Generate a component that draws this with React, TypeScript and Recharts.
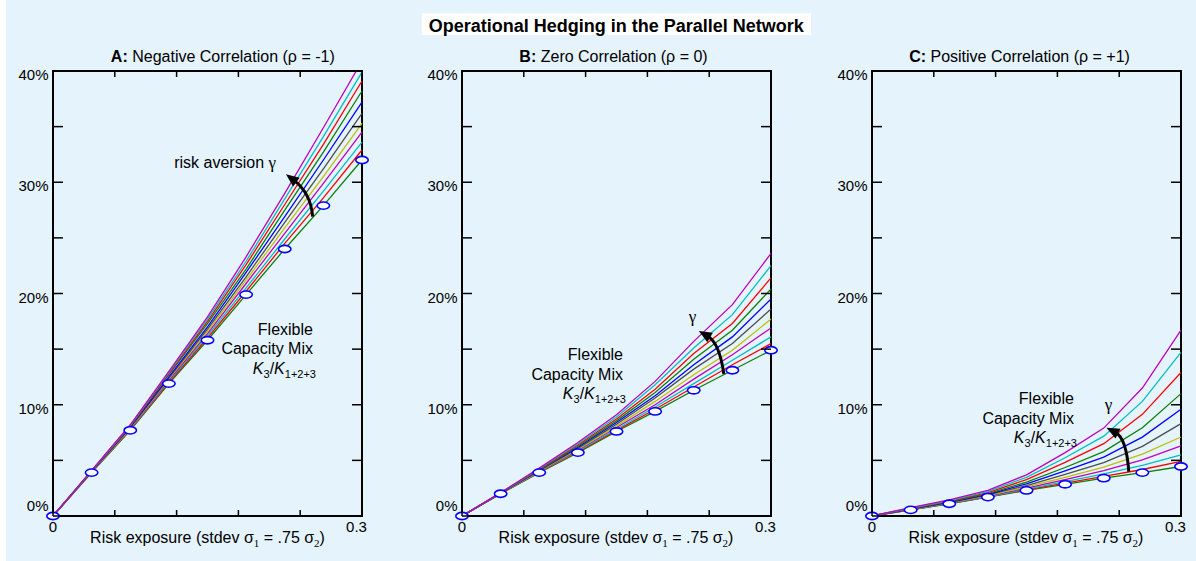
import { LineChart, Line, XAxis, YAxis, ReferenceArea, ReferenceDot } from "recharts";

// risk exposure grid (stdev of demand 1)
const exposure = [0, 0.0375, 0.075, 0.1125, 0.15, 0.1875, 0.225, 0.2625, 0.3];

// flexible capacity share K3/K1+2+3 in %, one row per risk aversion level (gamma = 0 first)
const negCorrMix = [
  [0, 3.9, 7.7, 11.9, 15.8, 19.9, 24.0, 27.9, 32.0],
  [0, 3.92, 7.75, 12.0, 16.0, 20.2, 24.5, 28.6, 32.9],
  [0, 3.94, 7.79, 12.1, 16.2, 20.5, 24.9, 29.2, 33.6],
  [0, 3.96, 7.84, 12.2, 16.4, 20.9, 25.4, 29.9, 34.5],
  [0, 3.97, 7.89, 12.3, 16.6, 21.2, 25.9, 30.5, 35.3],
  [0, 3.99, 7.94, 12.4, 16.8, 21.5, 26.4, 31.2, 36.2],
  [0, 4.02, 7.99, 12.5, 17.0, 21.9, 26.9, 32.0, 37.2],
  [0, 4.04, 8.05, 12.7, 17.3, 22.2, 27.5, 32.7, 38.2],
  [0, 4.06, 8.1, 12.8, 17.5, 22.6, 28.0, 33.4, 39.1],
  [0, 4.08, 8.15, 12.9, 17.7, 22.9, 28.5, 34.1, 39.9],
  [0, 4.1, 8.2, 13.0, 17.9, 23.3, 29.0, 34.9, 40.9],
];

const zeroCorrMix = [
  [0, 2.0, 3.9, 5.7, 7.6, 9.4, 11.3, 13.1, 14.9],
  [0, 2.01, 3.93, 5.76, 7.7, 9.6, 11.6, 13.6, 15.5],
  [0, 2.01, 3.96, 5.83, 7.8, 9.8, 11.9, 14.0, 16.1],
  [0, 2.02, 3.99, 5.91, 7.95, 10.0, 12.3, 14.5, 16.9],
  [0, 2.03, 4.03, 5.99, 8.08, 10.3, 12.7, 14.9, 17.7],
  [0, 2.04, 4.07, 6.08, 8.25, 10.6, 13.2, 15.5, 18.6],
  [0, 2.05, 4.11, 6.18, 8.4, 10.8, 13.6, 16.1, 19.5],
  [0, 2.06, 4.15, 6.27, 8.55, 11.1, 14.1, 16.7, 20.4],
  [0, 2.08, 4.2, 6.38, 8.72, 11.4, 14.6, 17.3, 21.4],
  [0, 2.09, 4.25, 6.49, 8.9, 11.8, 15.1, 18.1, 22.5],
  [0, 2.1, 4.3, 6.6, 9.1, 12.1, 15.7, 19.0, 23.6],
];

const posCorrMix = [
  [0, 0.55, 1.1, 1.7, 2.3, 2.85, 3.4, 3.9, 4.45],
  [0, 0.56, 1.11, 1.72, 2.35, 2.96, 3.57, 4.18, 4.9],
  [0, 0.57, 1.13, 1.75, 2.42, 3.1, 3.79, 4.55, 5.5],
  [0, 0.58, 1.15, 1.79, 2.51, 3.28, 4.08, 5.04, 6.3],
  [0, 0.59, 1.18, 1.83, 2.61, 3.48, 4.39, 5.57, 7.1],
  [0, 0.61, 1.21, 1.89, 2.73, 3.74, 4.8, 6.26, 8.3],
  [0, 0.63, 1.25, 1.95, 2.89, 4.05, 5.29, 7.09, 9.6],
  [0, 0.66, 1.29, 2.02, 3.04, 4.36, 5.79, 7.93, 11.0],
  [0, 0.69, 1.34, 2.11, 3.27, 4.82, 6.5, 9.14, 12.9],
  [0, 0.72, 1.39, 2.2, 3.48, 5.24, 7.18, 10.3, 14.7],
  [0, 0.75, 1.45, 2.3, 3.7, 5.7, 7.9, 11.5, 16.7],
];

const curveColors = [
  "#0a800a", "#ff0000", "#00bfbf", "#bf00bf", "#bfbf00", "#4d4d4d",
  "#0000ff", "#0a800a", "#ff0000", "#00bfbf", "#bf00bf",
];

const xTicks = [0, 0.06, 0.12, 0.18, 0.24, 0.3];
const xTickLabels: Record<string, string> = { "0": "0", "0.3": "0.3" };
const yTicks = [0, 5, 10, 15, 20, 25, 30, 35, 40];

const FONT = "'Liberation Sans', Arial, Helvetica, sans-serif";
const SYMBOL_FONT = "'Liberation Serif', 'Times New Roman', serif";
const PAGE_W = 1196;
const PAGE_H = 561;
const PLOT_TOP = 71;
const PLOT_W = 309;
const PLOT_H = 445;
const AXIS_W = 50;

function XTick(props: any) {
  const { x, y, payload } = props;
  const label = xTickLabels[String(payload.value)];
  const shift = payload.value === 0.3 ? -5.5 : 0;
  return (
    <g>
      <line x1={x} x2={x} y1={y} y2={y - 6} stroke="#000" strokeWidth={1.5} />
      <line x1={x} x2={x} y1={y - PLOT_H} y2={y - PLOT_H + 6} stroke="#000" strokeWidth={1.5} />
      {label && (
        <text x={x + shift} y={y + 16} textAnchor="middle" fontSize={15} fill="#000">
          {label}
        </text>
      )}
    </g>
  );
}

function YTick(props: any) {
  const { x, y, payload } = props;
  const v = payload.value as number;
  const showLabel = v % 10 === 0;
  return (
    <g>
      <line x1={x} x2={x + 10} y1={y} y2={y} stroke="#000" strokeWidth={1.5} />
      <line x1={x + PLOT_W} x2={x + PLOT_W - 10} y1={y} y2={y} stroke="#000" strokeWidth={1.5} />
      {showLabel && (
        <text x={x - 4.5} y={v === 0 ? y - 5 : y + 9} textAnchor="end" fontSize={15} fill="#000">
          {`${v}%`}
        </text>
      )}
    </g>
  );
}

function Marker(props: any) {
  const { cx, cy, index } = props;
  return (
    <ellipse key={`m${index}`} cx={cx} cy={cy} rx={6.2} ry={3.6} fill="#fff" stroke="#0000ff" strokeWidth={1.6} />
  );
}

// curved black arrow starting at the dot, bending towards the upper left
function curvedArrow(ctrl: [number, number], tip: [number, number]) {
  return (props: any) => {
    const { cx, cy } = props;
    const px = cx + ctrl[0];
    const py = cy + ctrl[1];
    const tx = cx + tip[0];
    const ty = cy + tip[1];
    const len = Math.hypot(tx - px, ty - py);
    const ux = (tx - px) / len;
    const uy = (ty - py) / len;
    const head = 13;
    const half = 5.5;
    const bx = tx - ux * head;
    const by = ty - uy * head;
    return (
      <g>
        <path
          d={`M${cx},${cy} Q${px},${py} ${bx + ux * 3},${by + uy * 3}`}
          fill="none"
          stroke="#000"
          strokeWidth={3}
        />
        <polygon
          points={`${tx},${ty} ${bx - uy * half},${by + ux * half} ${bx + uy * half},${by - ux * half}`}
          fill="#000"
        />
      </g>
    );
  };
}

function mixNote(props: any) {
  const { cx, cy } = props;
  return (
    <g fontSize={16} fill="#000">
      <text x={cx} y={cy} textAnchor="end">Flexible</text>
      <text x={cx} y={cy + 19.5} textAnchor="end">Capacity Mix</text>
      <text x={cx + 3} y={cy + 39} textAnchor="end">
        <tspan fontStyle="italic">K</tspan>
        <tspan fontSize={11} dy={4}>3</tspan>
        <tspan dy={-4}>/</tspan>
        <tspan fontStyle="italic">K</tspan>
        <tspan fontSize={11} dy={4}>1+2+3</tspan>
      </text>
    </g>
  );
}

function gammaNote(prefix: string, anchor: "end" | "middle") {
  return (props: any) => (
    <text x={props.cx} y={props.cy} textAnchor={anchor} fontSize={16} fill="#000">
      {prefix}
      <tspan fontFamily={SYMBOL_FONT} fontSize={17}>γ</tspan>
    </text>
  );
}

interface PanelProps {
  mix: number[][];
  plotLeft: number;
  children?: React.ReactNode;
}

function Panel({ mix, plotLeft, children }: PanelProps) {
  const rows = exposure.map((x, i) => {
    const row: Record<string, number> = { x };
    mix.forEach((curve, k) => {
      row[`g${k}`] = curve[i];
    });
    return row;
  });

  return (
    <div style={{ position: "absolute", left: plotLeft - AXIS_W, top: 0 }}>
      <LineChart
        width={AXIS_W + PLOT_W + 12}
        height={PAGE_H}
        data={rows}
        margin={{ top: PLOT_TOP, right: 12, bottom: 0, left: 0 }}
      >
        <XAxis
          dataKey="x"
          type="number"
          domain={[0, 0.3]}
          ticks={xTicks}
          interval={0}
          tickSize={0}
          tickMargin={0}
          axisLine={false}
          tick={XTick}
          height={PAGE_H - PLOT_TOP - PLOT_H}
        />
        <YAxis
          type="number"
          domain={[0, 40]}
          ticks={yTicks}
          interval={0}
          tickSize={0}
          tickMargin={0}
          axisLine={false}
          tick={YTick}
          width={AXIS_W}
          allowDataOverflow
        />
        <YAxis yAxisId="marks" type="number" domain={[0, 40]} hide />
        <ReferenceArea x1={0} x2={0.3} y1={0} y2={40} fill="none" stroke="#000" strokeWidth={2} />
        {mix.map((_, k) => (
          <Line
            key={k}
            type="linear"
            dataKey={`g${k}`}
            stroke={curveColors[k]}
            strokeWidth={1.3}
            dot={false}
            activeDot={false}
            isAnimationActive={false}
          />
        ))}
        <Line
          yAxisId="marks"
          type="linear"
          dataKey="g0"
          stroke="none"
          dot={Marker}
          activeDot={false}
          isAnimationActive={false}
        />
        {children}
      </LineChart>
    </div>
  );
}

function AxisTitle({ cx }: { cx: number }) {
  return (
    <text x={cx} y={543.3} textAnchor="middle" fontSize={16} fill="#000">
      Risk exposure (stdev σ
      <tspan fontSize={11} dy={4} fontFamily={SYMBOL_FONT}>1</tspan>
      <tspan dy={-4}> = .75 σ</tspan>
      <tspan fontSize={11} dy={4} fontFamily={SYMBOL_FONT}>2</tspan>
      <tspan dy={-4}>)</tspan>
    </text>
  );
}

function PanelTitle({ cx, tag, text }: { cx: number; tag: string; text: string }) {
  return (
    <text x={cx} y={61.7} textAnchor="middle" fontSize={16} fill="#000">
      <tspan fontWeight="bold">{tag}</tspan> {text}
    </text>
  );
}

export default function App() {
  return (
    <div
      style={{
        position: "absolute",
        left: 0,
        top: 0,
        width: PAGE_W,
        height: PAGE_H,
        background: "#fff",
        fontFamily: FONT,
        overflow: "hidden",
      }}
    >
      <div style={{ position: "absolute", left: 6, top: 0, width: PAGE_W - 6, height: PAGE_H, background: "#e5f3fd" }} />

      <Panel mix={negCorrMix} plotLeft={53}>
        <ReferenceDot x={0.2165} y={31.31} r={0} shape={gammaNote("risk aversion ", "end")} />
        <ReferenceDot x={0.2521} y={26.9} r={0} shape={curvedArrow([-1.9, -23.8], [-26.7, -42.4])} />
        <ReferenceDot x={0.2524} y={16.27} r={0} shape={mixNote} />
      </Panel>

      <Panel mix={zeroCorrMix} plotLeft={461.5}>
        <ReferenceDot x={0.2238} y={17.44} r={0} shape={gammaNote("", "middle")} />
        <ReferenceDot x={0.2542} y={12.76} r={0} shape={curvedArrow([-4.3, -31], [-25, -43])} />
        <ReferenceDot x={0.1563} y={13.98} r={0} shape={mixNote} />
      </Panel>

      <Panel mix={posCorrMix} plotLeft={871.5}>
        <ReferenceDot x={0.2296} y={9.53} r={0} shape={gammaNote("", "middle")} />
        <ReferenceDot x={0.2493} y={3.98} r={0} shape={curvedArrow([-2.3, -33.7], [-22.3, -44])} />
        <ReferenceDot x={0.1961} y={10.04} r={0} shape={mixNote} />
      </Panel>

      <svg
        width={PAGE_W}
        height={PAGE_H}
        style={{ position: "absolute", left: 0, top: 0, pointerEvents: "none" }}
      >
        <rect x={421.7} y={13.3} width={389.3} height={21.7} fill="#fff" />
        <text x={616.3} y={31.7} textAnchor="middle" fontSize={18} fontWeight="bold" fill="#000">
          Operational Hedging in the Parallel Network
        </text>
        <PanelTitle cx={222.8} tag="A:" text="Negative Correlation (ρ = -1)" />
        <PanelTitle cx={613.5} tag="B:" text="Zero Correlation (ρ = 0)" />
        <PanelTitle cx={1019.5} tag="C:" text="Positive Correlation (ρ = +1)" />
        <AxisTitle cx={207.5} />
        <AxisTitle cx={616} />
        <AxisTitle cx={1026} />
      </svg>
    </div>
  );
}
